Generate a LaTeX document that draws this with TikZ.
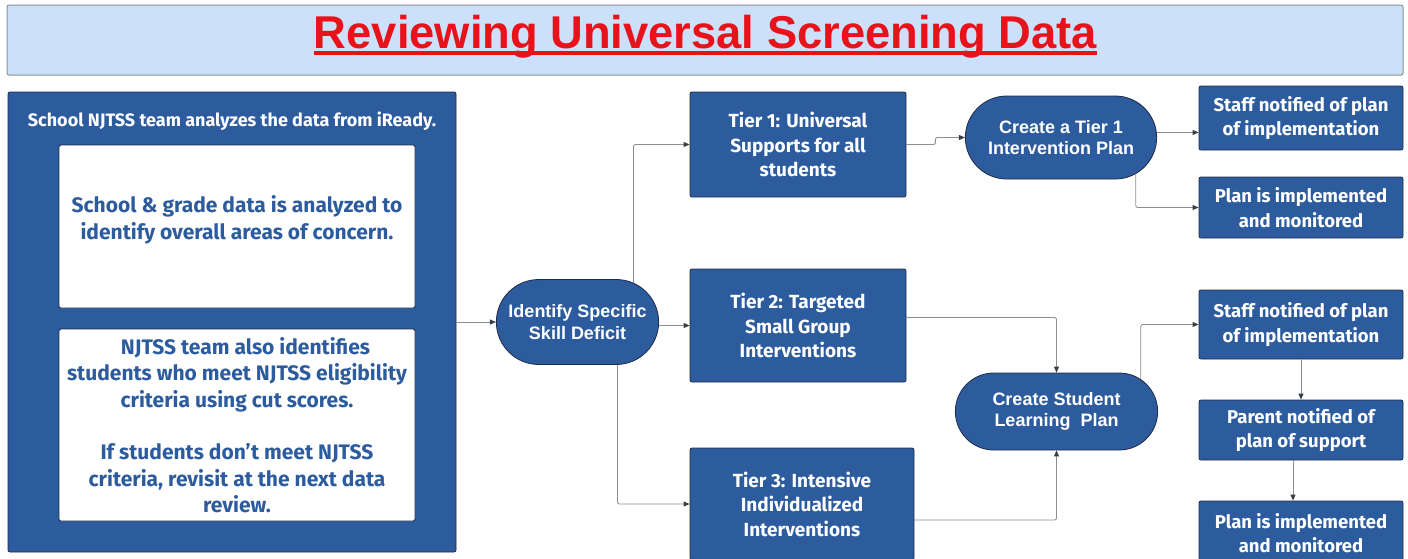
\documentclass[tikz,border=0pt]{standalone}
\usepackage{fontspec}
\setmainfont{Fira Sans}
\newfontfamily\arialfont{Liberation Sans}
\usetikzlibrary{shapes.misc,arrows.meta}
\definecolor{boxblue}{HTML}{2D5C9E}
\definecolor{boxedge}{HTML}{1F2B45}
\definecolor{titlebg}{HTML}{CDE0FA}
\definecolor{titleedge}{HTML}{8A8F99}
\definecolor{titlered}{HTML}{E8121B}
\definecolor{linegray}{HTML}{8E8E8E}
\definecolor{tipgray}{HTML}{3A3F47}

\begin{document}
\begin{tikzpicture}[x=1pt, y=-1pt, >={Triangle[length=6pt, width=5pt, color=tipgray]}]
    \tikzstyle{block}=[draw=boxedge, fill=boxblue, line width=0.8pt, rounded corners=2pt, text=white, align=center, font=\bfseries\fontsize{19}{24.5}\selectfont]
    \tikzstyle{stepbox}=[block, font=\bfseries\fontsize{18.5}{24.5}\selectfont, minimum width=204pt]
    \tikzstyle{pill}=[draw=boxedge, fill=boxblue, line width=0.8pt, rounded rectangle, text=white, align=center, font=\arialfont\bfseries\fontsize{18}{21.5}\selectfont]
    \tikzstyle{inner}=[draw=boxedge, fill=white, line width=0.8pt, rounded corners=2pt, text=boxblue, align=center, minimum width=356pt, font=\bfseries\fontsize{21}{26.5}\selectfont]
    \tikzstyle{link}=[->, draw=linegray, line width=0.9pt, rounded corners=2pt]

    \useasboundingbox (0,0) rectangle (1408,558);

    % Title
    \node[draw=titleedge, fill=titlebg, line width=1pt, rounded corners=2pt, minimum width=1396pt, minimum height=70pt] (banner) at (705,40) {};
    \node[anchor=base, inner sep=0pt, text=titlered, font=\arialfont\bfseries\fontsize{46}{46}\selectfont] (title) at (705.5,48) {\scalebox{0.985}[1]{Reviewing Universal Screening Data}};
    \draw[titlered, line width=3.5pt] ([yshift=-5pt]title.base west) -- ([yshift=-5pt]title.base east);

    % Team
    \node[block, minimum width=448pt, minimum height=460pt] (team) at (232,322) {};
    \node[text=white, font=\bfseries\fontsize{18}{20}\selectfont] (teamhead) at (232,121) {School NJTSS team analyzes the data from iReady.};
    \node[inner, minimum height=163pt] (grade) at (237,226.5) {School \& grade data is analyzed to\\identify overall areas of concern.\\[-8pt]\mbox{}};
    \node[inner, minimum height=192pt] (cut) at (237,425) {\hspace*{17pt}NJTSS team also identifies\\students who meet NJTSS eligibility\\criteria using cut scores.\\[26pt]If students don’t meet NJTSS\\criteria, revisit at the next data\\review.};

    % Deficit
    \node[pill, minimum width=169pt, minimum height=85pt] (deficit) at (577.5,322) {Identify Specific\\Skill Deficit};

    % Tiers
    \node[block, minimum width=216pt, minimum height=105pt] (tier1) at (798,144.5) {Tier 1: Universal\\Supports for all\\students};
    \node[block, minimum width=216pt, minimum height=113pt] (tier2) at (798,325.5) {Tier 2: Targeted\\Small Group\\Interventions};
    \node[block, minimum width=224pt, minimum height=112pt] (tier3) at (802,504) {Tier 3: Intensive\\Individualized\\Interventions};

    % Plans
    \node[pill, minimum width=198pt, minimum height=83pt] (plan1) at (1061,137.5) {Create a Tier 1\\Intervention Plan};
    \node[pill, minimum width=209pt, minimum height=77pt] (plan2) at (1056.5,411.5) {Create Student\\Learning\ \ Plan};

    % Steps
    \node[stepbox, minimum height=64pt] (staff1) at (1301,118) {Staff notified of plan\\of implementation};
    \node[stepbox, minimum height=61pt] (done1) at (1301,207.5) {Plan is implemented\\and monitored};
    \node[stepbox, minimum height=69pt] (staff2) at (1301,324.5) {Staff notified of plan\\of implementation};
    \node[stepbox, minimum height=60pt] (parent) at (1301,430) {Parent notified of\\plan of support};
    \node[stepbox, minimum height=64pt] (done2) at (1301,533) {Plan is implemented\\and monitored};

    % Connections
    \draw[link] (team.east |- deficit) -- (deficit.west);
    \draw[link] (deficit.35) |- (tier1.west);
    \draw[link] (deficit.east |- tier2) -- (tier2.west);
    \draw[link] (deficit.-47) |- (tier3.west);

    \draw[link] (tier1.east) -- ++(29,0) |- (plan1.west);
    \draw[link] ([yshift=8pt]tier2.east) -| (plan2.north);
    \draw[link] ([yshift=-16pt]tier3.east) -| (plan2.south);

    \draw[link] (plan1.3) -- (plan1.3 -| staff1.west);
    \draw[link] (plan1.-26) |- (done1.west);
    \draw[link] (plan2.21) |- (staff2.west);

    \draw[link] (staff2.south) -- (parent.north);
    \draw[link] ([xshift=-8pt]parent.south) -- ([xshift=-8pt]done2.north);
\end{tikzpicture}
\end{document}
